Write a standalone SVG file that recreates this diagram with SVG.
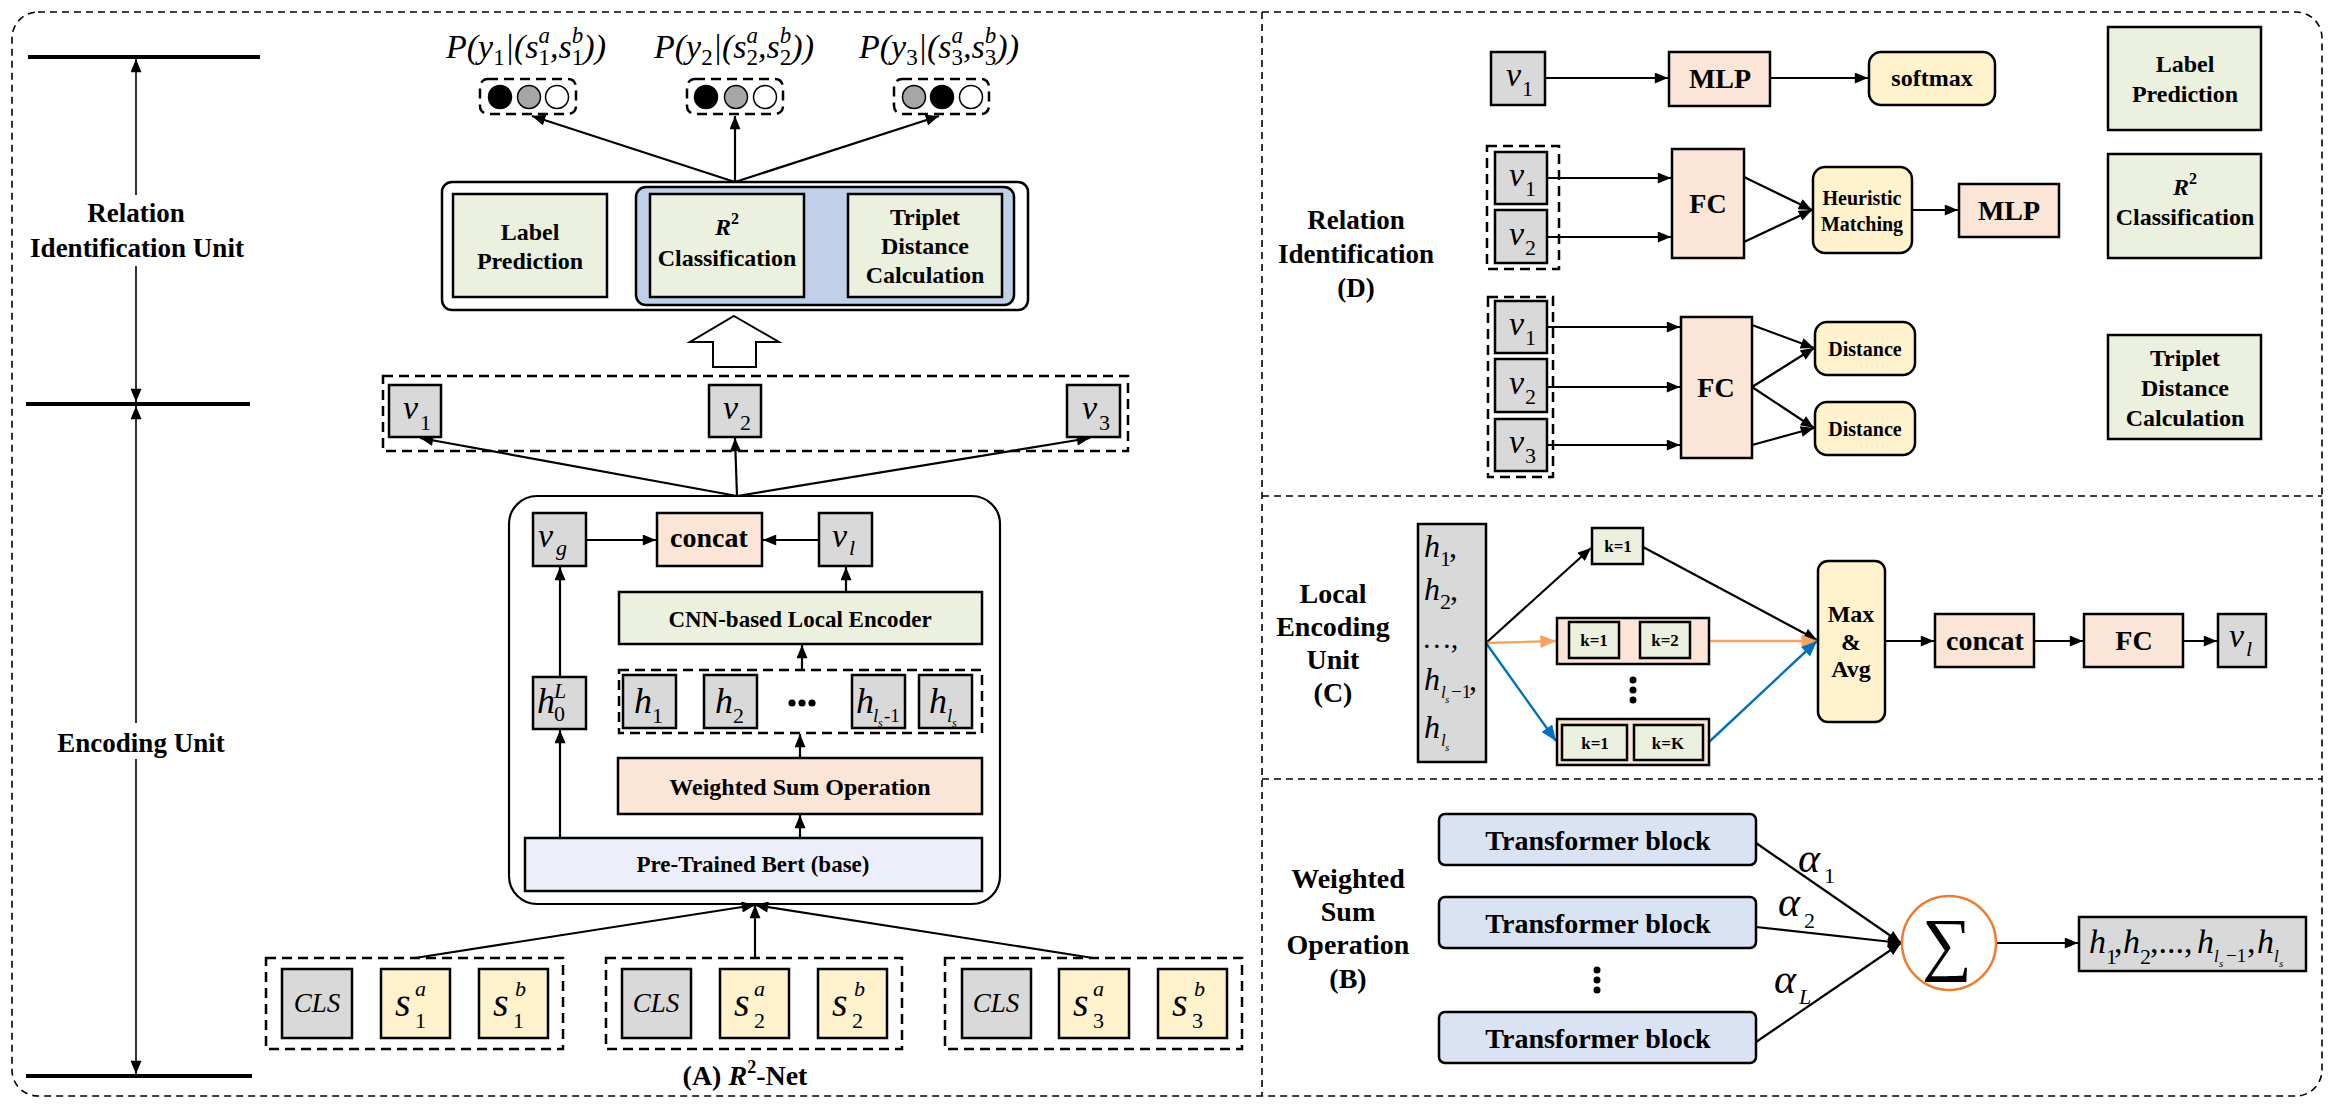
<svg xmlns="http://www.w3.org/2000/svg" width="2334" height="1108" viewBox="0 0 2334 1108">
<defs>
<style>
.t{font-family:"Liberation Serif","Times New Roman",serif;font-weight:bold;text-anchor:middle;fill:#000}
.s23{font-size:23px}.s24{font-size:24px}.s27{font-size:27px}.s28{font-size:28px}.s20{font-size:20px}.s17{font-size:17px}
.iv{font-family:"Liberation Serif","Times New Roman",serif;font-style:italic;fill:#000}
.sub{font-style:normal;font-size:22px}
.subi{font-style:italic;font-size:22px}
.prob{font-family:"Liberation Serif","Times New Roman",serif;font-style:italic;font-size:34px;fill:#000}
.psub{font-style:normal;font-size:23px}
.psup{font-style:italic;font-size:23px}
.b{stroke:#000;stroke-width:2.5}
.gray{fill:#D9D9D9}.yel{fill:#FFF2CC}.pch{fill:#FBE5D6}.grn{fill:#EBF1DE}.lav{fill:#DAE3F3}.bert{fill:#ECEFF9}.wht{fill:#fff}
.c{stroke:#000;stroke-width:2.2;fill:none}
.ca{stroke:#000;stroke-width:2.2;fill:none;marker-end:url(#ah)}
.tl{stroke:#000;stroke-width:1.6;fill:none;marker-end:url(#ah)}
.co{stroke:#F4A460;stroke-width:2.4;fill:none;marker-end:url(#aho)}
.cb{stroke:#0070C0;stroke-width:2.4;fill:none;marker-end:url(#ahb)}
.dash{fill:none;stroke:#000;stroke-width:2.5;stroke-dasharray:10 6}
.pdash{fill:none;stroke:#000;stroke-width:1.6;stroke-dasharray:7 5}
.thick{stroke:#000;stroke-width:4}
</style>
<marker id="ah" viewBox="0 0 12 10" refX="12" refY="5" markerWidth="14" markerHeight="11" markerUnits="userSpaceOnUse" orient="auto"><path d="M0,0 L12,5 L0,10 z" fill="#000"/></marker>
<marker id="aho" viewBox="0 0 12 10" refX="12" refY="5" markerWidth="16" markerHeight="13" markerUnits="userSpaceOnUse" orient="auto"><path d="M0,0 L12,5 L0,10 z" fill="#F4A460"/></marker>
<marker id="ahb" viewBox="0 0 12 10" refX="12" refY="5" markerWidth="16" markerHeight="13" markerUnits="userSpaceOnUse" orient="auto"><path d="M0,0 L12,5 L0,10 z" fill="#0070C0"/></marker>
</defs>
<rect width="2334" height="1108" fill="#fff"/>

<g id="frame">
<rect class="pdash" x="12" y="12" width="2310" height="1084" rx="26"/>
<line class="pdash" x1="1262" y1="12" x2="1262" y2="1096"/>
<line class="pdash" x1="1262" y1="496" x2="2322" y2="496"/>
<line class="pdash" x1="1262" y1="779" x2="2322" y2="779"/>
</g>

<g id="timeline">
<line class="thick" x1="28" y1="57" x2="260" y2="57"/>
<line class="thick" x1="26" y1="404" x2="250" y2="404"/>
<line class="thick" x1="26" y1="1076" x2="252" y2="1076"/>
<text class="t s27" x="136" y="222">Relation</text>
<text class="t s27" x="137" y="257">Identification Unit</text>
<text class="t s27" x="141" y="752">Encoding Unit</text>
</g>

<g id="connectors">
<line class="tl" x1="136" y1="195" x2="136" y2="59"/>
<line class="tl" x1="136" y1="266" x2="136" y2="402"/>
<line class="tl" x1="136" y1="723" x2="136" y2="406"/>
<line class="tl" x1="136" y1="759" x2="136" y2="1074"/>
<line class="ca" x1="735" y1="182" x2="532" y2="116"/>
<line class="ca" x1="735" y1="182" x2="735" y2="116"/>
<line class="ca" x1="735" y1="182" x2="939" y2="116"/>
<line class="ca" x1="737" y1="496" x2="420" y2="438"/>
<line class="ca" x1="737" y1="496" x2="735" y2="438"/>
<line class="ca" x1="737" y1="496" x2="1090" y2="438"/>
<line class="ca" x1="586" y1="540" x2="656" y2="540"/>
<line class="ca" x1="819" y1="540" x2="763" y2="540"/>
<line class="ca" x1="846" y1="592" x2="846" y2="567"/>
<line class="ca" x1="802" y1="670" x2="802" y2="645"/>
<line class="ca" x1="800" y1="758" x2="800" y2="734"/>
<line class="ca" x1="800" y1="838" x2="800" y2="815"/>
<line class="ca" x1="560" y1="838" x2="560" y2="730"/>
<line class="ca" x1="560" y1="677" x2="560" y2="567"/>
<line class="ca" x1="415" y1="958" x2="755" y2="905"/>
<line class="ca" x1="755" y1="958" x2="755" y2="905"/>
<line class="ca" x1="1093" y1="958" x2="755" y2="905"/>
<polygon points="734,316 779,342 756,342 756,367 713,367 713,342 690,342" fill="#fff" stroke="#000" stroke-width="2"/>
<line class="ca" x1="1545" y1="78" x2="1668" y2="78"/>
<line class="ca" x1="1770" y1="78" x2="1868" y2="78"/>
<line class="ca" x1="1547" y1="178" x2="1671" y2="178"/>
<line class="ca" x1="1547" y1="237" x2="1671" y2="237"/>
<line class="ca" x1="1744" y1="177" x2="1812" y2="210"/>
<line class="ca" x1="1744" y1="242" x2="1812" y2="210"/>
<line class="ca" x1="1912" y1="210" x2="1958" y2="210"/>
<line class="ca" x1="1547" y1="327" x2="1680" y2="327"/>
<line class="ca" x1="1547" y1="387" x2="1680" y2="387"/>
<line class="ca" x1="1547" y1="445" x2="1680" y2="445"/>
<line class="ca" x1="1752" y1="325" x2="1814" y2="348"/>
<line class="ca" x1="1752" y1="387" x2="1814" y2="348"/>
<line class="ca" x1="1752" y1="387" x2="1814" y2="428"/>
<line class="ca" x1="1752" y1="445" x2="1814" y2="428"/>
<line class="ca" x1="1486" y1="643" x2="1591" y2="548"/>
<line class="co" x1="1486" y1="643" x2="1556" y2="641"/>
<line class="cb" x1="1486" y1="643" x2="1556" y2="741"/>
<line class="ca" x1="1643" y1="547" x2="1817" y2="640"/>
<line class="co" x1="1709" y1="641" x2="1817" y2="641"/>
<line class="cb" x1="1709" y1="742" x2="1817" y2="641"/>
<line class="ca" x1="1885" y1="641" x2="1934" y2="641"/>
<line class="ca" x1="2034" y1="641" x2="2083" y2="641"/>
<line class="ca" x1="2183" y1="641" x2="2217" y2="641"/>
<line class="ca" x1="1756" y1="843" x2="1901" y2="943"/>
<line class="ca" x1="1756" y1="927" x2="1901" y2="943"/>
<line class="ca" x1="1756" y1="1042" x2="1901" y2="943"/>
<line class="ca" x1="1996" y1="943" x2="2078" y2="943"/>
</g>

<g id="probs">
<text class="prob" x="446" y="58">P(y<tspan class="psub" dy="7">1</tspan><tspan dy="-7">|(s</tspan><tspan class="psub" dy="7">1</tspan><tspan class="psup" dx="-11.5" dy="-22">a</tspan><tspan dy="15">,s</tspan><tspan class="psub" dy="7">1</tspan><tspan class="psup" dx="-11.5" dy="-22">b</tspan><tspan dy="15">))</tspan></text>
<text class="prob" x="654" y="58">P(y<tspan class="psub" dy="7">2</tspan><tspan dy="-7">|(s</tspan><tspan class="psub" dy="7">2</tspan><tspan class="psup" dx="-11.5" dy="-22">a</tspan><tspan dy="15">,s</tspan><tspan class="psub" dy="7">2</tspan><tspan class="psup" dx="-11.5" dy="-22">b</tspan><tspan dy="15">))</tspan></text>
<text class="prob" x="859" y="58">P(y<tspan class="psub" dy="7">3</tspan><tspan dy="-7">|(s</tspan><tspan class="psub" dy="7">3</tspan><tspan class="psup" dx="-11.5" dy="-22">a</tspan><tspan dy="15">,s</tspan><tspan class="psub" dy="7">3</tspan><tspan class="psup" dx="-11.5" dy="-22">b</tspan><tspan dy="15">))</tspan></text>
</g>

<g id="out1">
<rect class="dash" x="480" y="79" width="96" height="35" rx="8"/>
<circle cx="500" cy="97" r="11.5" fill="#000" stroke="#000" stroke-width="1.5"/>
<circle cx="529" cy="97" r="11.5" fill="#A6A6A6" stroke="#000" stroke-width="1.5"/>
<circle cx="557" cy="97" r="11.5" fill="#fff" stroke="#000" stroke-width="1.5"/>
</g>
<g id="out2">
<rect class="dash" x="687" y="79" width="96" height="35" rx="8"/>
<circle cx="706" cy="97" r="11.5" fill="#000" stroke="#000" stroke-width="1.5"/>
<circle cx="736" cy="97" r="11.5" fill="#A6A6A6" stroke="#000" stroke-width="1.5"/>
<circle cx="765" cy="97" r="11.5" fill="#fff" stroke="#000" stroke-width="1.5"/>
</g>
<g id="out3">
<rect class="dash" x="894" y="79" width="95" height="35" rx="8"/>
<circle cx="914" cy="97" r="11.5" fill="#A6A6A6" stroke="#000" stroke-width="1.5"/>
<circle cx="942" cy="97" r="11.5" fill="#000" stroke="#000" stroke-width="1.5"/>
<circle cx="971" cy="97" r="11.5" fill="#fff" stroke="#000" stroke-width="1.5"/>
</g>

<g id="rel-unit">
<rect class="b wht" x="442" y="182" width="586" height="128" rx="10"/>
<rect fill="#BFD0E8" stroke="#000" stroke-width="2.5" x="636" y="187" width="378" height="118" rx="10"/>
<rect class="b grn" x="453" y="194" width="154" height="103"/>
<text class="t s24" x="530" y="240">Label</text>
<text class="t s24" x="530" y="269">Prediction</text>
<rect class="b grn" x="650" y="194" width="154" height="103"/>
<text class="t s24" x="727" y="235"><tspan font-style="italic">R</tspan><tspan font-size="16" dy="-11">2</tspan></text>
<text class="t s24" x="727" y="266">Classification</text>
<rect class="b grn" x="848" y="194" width="154" height="103"/>
<text class="t s24" x="925" y="225">Triplet</text>
<text class="t s24" x="925" y="254">Distance</text>
<text class="t s24" x="925" y="283">Calculation</text>
</g>

<g id="v-vectors">
<rect class="dash" x="383" y="376" width="745" height="75"/>
<rect class="b gray" x="389" y="385" width="52" height="52"/>
<text class="iv" font-size="34" x="403" y="419">v<tspan class="sub" x="420" y="430">1</tspan></text>
<rect class="b gray" x="709" y="385" width="52" height="52"/>
<text class="iv" font-size="34" x="723" y="419">v<tspan class="sub" x="740" y="430">2</tspan></text>
<rect class="b gray" x="1067" y="385" width="53" height="52"/>
<text class="iv" font-size="34" x="1082" y="419">v<tspan class="sub" x="1099" y="430">3</tspan></text>
</g>

<g id="encoder">
<rect fill="none" stroke="#000" stroke-width="2.2" x="509" y="496" width="491" height="408" rx="28"/>
<rect class="b gray" x="533" y="513" width="53" height="53"/>
<text class="iv" font-size="34" x="538" y="547">v<tspan class="subi" x="556" y="555">g</tspan></text>
<rect class="b pch" x="657" y="513" width="105" height="53"/>
<text class="t s28" x="709" y="547">concat</text>
<rect class="b gray" x="819" y="513" width="53" height="53"/>
<text class="iv" font-size="34" x="832" y="547">v<tspan class="subi" x="849" y="555">l</tspan></text>
<rect class="b grn" x="619" y="592" width="363" height="52"/>
<text class="t s23" x="800" y="627">CNN-based Local Encoder</text>
<rect class="dash" x="619" y="670" width="363" height="63"/>
<rect class="b gray" x="533" y="677" width="53" height="52"/>
<text class="iv" font-size="36" x="537" y="713">h<tspan class="subi" font-size="18" x="554" y="698">L</tspan><tspan class="sub" font-size="20" x="554" y="721">0</tspan></text>
<rect class="b gray" x="623" y="675" width="53" height="53"/>
<text class="iv" font-size="36" x="634" y="713">h<tspan class="sub" x="652" y="723">1</tspan></text>
<rect class="b gray" x="704" y="675" width="53" height="53"/>
<text class="iv" font-size="36" x="715" y="713">h<tspan class="sub" x="733" y="723">2</tspan></text>
<circle cx="792" cy="703" r="3.6" fill="#000"/><circle cx="802" cy="703" r="3.6" fill="#000"/><circle cx="812" cy="703" r="3.6" fill="#000"/>
<rect class="b gray" x="852" y="675" width="53" height="53"/>
<text class="iv" font-size="36" x="856" y="713">h<tspan font-size="19" x="873" y="722">l</tspan><tspan font-size="12" x="878" y="727">s</tspan><tspan font-style="normal" font-size="19" x="884" y="722">-1</tspan></text>
<rect class="b gray" x="919" y="675" width="53" height="53"/>
<text class="iv" font-size="36" x="929" y="713">h<tspan font-size="19" x="947" y="722">l</tspan><tspan font-size="12" x="952" y="727">s</tspan></text>
<rect class="b pch" x="618" y="758" width="364" height="56"/>
<text class="t s24" x="800" y="795">Weighted Sum Operation</text>
<rect class="b bert" x="525" y="838" width="457" height="53"/>
<text class="t s23" x="753" y="872">Pre-Trained Bert (base)</text>
</g>

<g id="input1">
<rect class="dash" x="266" y="958" width="297" height="91"/>
<rect class="b gray" x="282" y="969" width="70" height="69"/>
<text class="iv" font-size="27" text-anchor="middle" x="317" y="1012">CLS</text>
<rect class="b yel" x="381" y="969" width="69" height="69"/>
<text class="iv" font-size="40" x="395" y="1016">s<tspan class="sub" font-size="26" x="415" y="1028">1</tspan><tspan class="subi" font-size="26" x="415" y="996">a</tspan></text>
<rect class="b yel" x="479" y="969" width="69" height="69"/>
<text class="iv" font-size="40" x="493" y="1016">s<tspan class="sub" font-size="26" x="513" y="1028">1</tspan><tspan class="subi" font-size="26" x="515" y="996">b</tspan></text>
</g>
<g id="input2">
<rect class="dash" x="606" y="958" width="296" height="91"/>
<rect class="b gray" x="622" y="969" width="69" height="69"/>
<text class="iv" font-size="27" text-anchor="middle" x="656" y="1012">CLS</text>
<rect class="b yel" x="720" y="969" width="69" height="69"/>
<text class="iv" font-size="40" x="734" y="1016">s<tspan class="sub" font-size="26" x="754" y="1028">2</tspan><tspan class="subi" font-size="26" x="754" y="996">a</tspan></text>
<rect class="b yel" x="818" y="969" width="69" height="69"/>
<text class="iv" font-size="40" x="832" y="1016">s<tspan class="sub" font-size="26" x="852" y="1028">2</tspan><tspan class="subi" font-size="26" x="854" y="996">b</tspan></text>
</g>
<g id="input3">
<rect class="dash" x="945" y="958" width="297" height="91"/>
<rect class="b gray" x="962" y="969" width="69" height="69"/>
<text class="iv" font-size="27" text-anchor="middle" x="996" y="1012">CLS</text>
<rect class="b yel" x="1059" y="969" width="70" height="69"/>
<text class="iv" font-size="40" x="1073" y="1016">s<tspan class="sub" font-size="26" x="1093" y="1028">3</tspan><tspan class="subi" font-size="26" x="1093" y="996">a</tspan></text>
<rect class="b yel" x="1158" y="969" width="69" height="69"/>
<text class="iv" font-size="40" x="1172" y="1016">s<tspan class="sub" font-size="26" x="1192" y="1028">3</tspan><tspan class="subi" font-size="26" x="1194" y="996">b</tspan></text>
</g>
<g id="caption-a">
<text class="t s28" x="745" y="1085">(A) <tspan font-style="italic">R</tspan><tspan font-size="18" dy="-12">2</tspan><tspan dy="12">-Net</tspan></text>
</g>

<g id="panel-d">
<text class="t s27" x="1356" y="229">Relation</text>
<text class="t s27" x="1356" y="263">Identification</text>
<text class="t s27" x="1356" y="297">(D)</text>
<rect class="b gray" x="1491" y="52" width="54" height="53"/>
<text class="iv" font-size="34" x="1506" y="86">v<tspan class="sub" x="1522" y="96">1</tspan></text>
<rect class="b pch" x="1669" y="52" width="101" height="54"/>
<text class="t s28" x="1720" y="88">MLP</text>
<rect class="b yel" x="1869" y="52" width="126" height="53" rx="12"/>
<text class="t s24" x="1932" y="86">softmax</text>
<rect class="b grn" x="2108" y="27" width="153" height="103"/>
<text class="t s24" x="2185" y="72">Label</text>
<text class="t s24" x="2185" y="102">Prediction</text>

<rect class="dash" x="1487" y="146" width="72" height="123"/>
<rect class="b gray" x="1495" y="152" width="52" height="52"/>
<text class="iv" font-size="34" x="1509" y="186">v<tspan class="sub" x="1525" y="196">1</tspan></text>
<rect class="b gray" x="1495" y="210" width="52" height="53"/>
<text class="iv" font-size="34" x="1509" y="245">v<tspan class="sub" x="1525" y="255">2</tspan></text>
<rect class="b pch" x="1672" y="149" width="72" height="109"/>
<text class="t s28" x="1708" y="213">FC</text>
<rect class="b yel" x="1813" y="167" width="99" height="86" rx="12"/>
<text class="t s20" x="1862" y="205">Heuristic</text>
<text class="t s20" x="1862" y="231">Matching</text>
<rect class="b pch" x="1959" y="184" width="100" height="53"/>
<text class="t s28" x="2009" y="220">MLP</text>
<rect class="b grn" x="2108" y="154" width="153" height="104"/>
<text class="t s24" x="2185" y="195"><tspan font-style="italic">R</tspan><tspan font-size="16" dy="-11">2</tspan></text>
<text class="t s24" x="2185" y="225">Classification</text>

<rect class="dash" x="1488" y="297" width="65" height="180"/>
<rect class="b gray" x="1495" y="301" width="52" height="52"/>
<text class="iv" font-size="34" x="1509" y="335">v<tspan class="sub" x="1525" y="345">1</tspan></text>
<rect class="b gray" x="1495" y="359" width="52" height="53"/>
<text class="iv" font-size="34" x="1509" y="394">v<tspan class="sub" x="1525" y="404">2</tspan></text>
<rect class="b gray" x="1495" y="419" width="52" height="52"/>
<text class="iv" font-size="34" x="1509" y="453">v<tspan class="sub" x="1525" y="463">3</tspan></text>
<rect class="b pch" x="1681" y="317" width="71" height="141"/>
<text class="t s28" x="1716" y="397">FC</text>
<rect class="b yel" x="1815" y="322" width="100" height="53" rx="12"/>
<text class="t s20" x="1865" y="356">Distance</text>
<rect class="b yel" x="1815" y="402" width="100" height="53" rx="12"/>
<text class="t s20" x="1865" y="436">Distance</text>
<rect class="b grn" x="2108" y="335" width="153" height="104"/>
<text class="t s24" x="2185" y="366">Triplet</text>
<text class="t s24" x="2185" y="396">Distance</text>
<text class="t s24" x="2185" y="426">Calculation</text>
</g>

<g id="panel-c">
<text class="t s28" x="1333" y="603">Local</text>
<text class="t s28" x="1333" y="636">Encoding</text>
<text class="t s28" x="1333" y="669">Unit</text>
<text class="t s28" x="1333" y="702">(C)</text>
<rect class="b gray" x="1418" y="524" width="68" height="238"/>
<text class="iv" font-size="32" x="1424" y="557">h<tspan class="sub" font-size="19" x="1440" y="566">1</tspan><tspan font-style="normal" x="1449" y="557">,</tspan></text>
<text class="iv" font-size="32" x="1424" y="600">h<tspan class="sub" font-size="19" x="1440" y="609">2</tspan><tspan font-style="normal" x="1450" y="600">,</tspan></text>
<text class="iv" font-size="30" font-style="normal" x="1424" y="648">…,</text>
<text class="iv" font-size="32" x="1424" y="690">h<tspan font-size="17" x="1441" y="698">l</tspan><tspan font-size="11" x="1445" y="703">s</tspan><tspan font-style="normal" font-size="19" x="1451" y="698">−1</tspan><tspan font-style="normal" x="1469" y="690">,</tspan></text>
<text class="iv" font-size="32" x="1424" y="738">h<tspan font-size="17" x="1441" y="746">l</tspan><tspan font-size="11" x="1445" y="751">s</tspan></text>
<rect class="b grn" x="1592" y="528" width="51" height="36"/>
<text class="t s17" x="1618" y="552">k=1</text>
<rect class="b pch" x="1557" y="618" width="152" height="46"/>
<rect class="b grn" x="1569" y="622" width="50" height="36"/>
<text class="t s17" x="1594" y="646">k=1</text>
<rect class="b grn" x="1640" y="622" width="50" height="36"/>
<text class="t s17" x="1665" y="646">k=2</text>
<circle cx="1633" cy="680" r="3.5" fill="#000"/><circle cx="1633" cy="690" r="3.5" fill="#000"/><circle cx="1633" cy="700" r="3.5" fill="#000"/>
<rect class="b pch" x="1557" y="719" width="152" height="46"/>
<rect class="b grn" x="1562" y="725" width="65" height="35"/>
<text class="t s17" x="1595" y="749">k=1</text>
<rect class="b grn" x="1634" y="725" width="69" height="35"/>
<text class="t s17" x="1668" y="749">k=K</text>
<rect class="b yel" x="1818" y="561" width="67" height="161" rx="10"/>
<text class="t s24" x="1851" y="622">Max</text>
<text class="t s24" x="1851" y="650">&amp;</text>
<text class="t s24" x="1851" y="677">Avg</text>
<rect class="b pch" x="1935" y="614" width="99" height="53"/>
<text class="t s28" x="1985" y="650">concat</text>
<rect class="b pch" x="2084" y="614" width="99" height="53"/>
<text class="t s28" x="2134" y="650">FC</text>
<rect class="b gray" x="2218" y="614" width="48" height="53"/>
<text class="iv" font-size="34" x="2229" y="647">v<tspan class="subi" x="2246" y="656">l</tspan></text>
</g>

<g id="panel-b">
<text class="t s28" x="1348" y="888">Weighted</text>
<text class="t s28" x="1348" y="921">Sum</text>
<text class="t s28" x="1348" y="954">Operation</text>
<text class="t s28" x="1348" y="988">(B)</text>
<rect class="b lav" x="1439" y="814" width="317" height="51" rx="6"/>
<text class="t s28" x="1598" y="850">Transformer block</text>
<rect class="b lav" x="1439" y="897" width="317" height="51" rx="6"/>
<text class="t s28" x="1598" y="933">Transformer block</text>
<circle cx="1597" cy="970" r="3.5" fill="#000"/><circle cx="1597" cy="980" r="3.5" fill="#000"/><circle cx="1597" cy="990" r="3.5" fill="#000"/>
<rect class="b lav" x="1439" y="1012" width="317" height="51" rx="6"/>
<text class="t s28" x="1598" y="1048">Transformer block</text>
<text class="iv" font-size="42" x="1798" y="872">α<tspan class="sub" font-size="24" x="1824" y="883">1</tspan></text>
<text class="iv" font-size="42" x="1778" y="916">α<tspan class="sub" font-size="24" x="1804" y="928">2</tspan></text>
<text class="iv" font-size="42" x="1774" y="993">α<tspan class="subi" font-size="24" x="1799" y="1004">L</tspan></text>
<circle cx="1949" cy="943" r="47" fill="#fff" stroke="#ED7D31" stroke-width="2.5"/>
<text x="1947" y="967" font-family="Liberation Serif, DejaVu Serif, serif" font-size="70" text-anchor="middle">∑</text>
<rect class="b gray" x="2079" y="917" width="227" height="54"/>
<text class="iv" font-size="34" x="2089" y="953">h<tspan class="sub" font-size="19" x="2106" y="964">1</tspan><tspan font-style="normal" x="2114" y="953">,</tspan><tspan x="2123" y="953">h</tspan><tspan class="sub" font-size="19" x="2140" y="964">2</tspan><tspan font-style="normal" x="2150" y="953">,...,</tspan><tspan x="2197" y="953">h</tspan><tspan font-size="17" x="2214" y="962">l</tspan><tspan font-size="11" x="2219" y="967">s</tspan><tspan font-style="normal" font-size="19" x="2226" y="962">−1</tspan><tspan font-style="normal" x="2247" y="953">,</tspan><tspan x="2257" y="953">h</tspan><tspan font-size="17" x="2274" y="962">l</tspan><tspan font-size="11" x="2279" y="967">s</tspan></text>
</g>
</svg>
